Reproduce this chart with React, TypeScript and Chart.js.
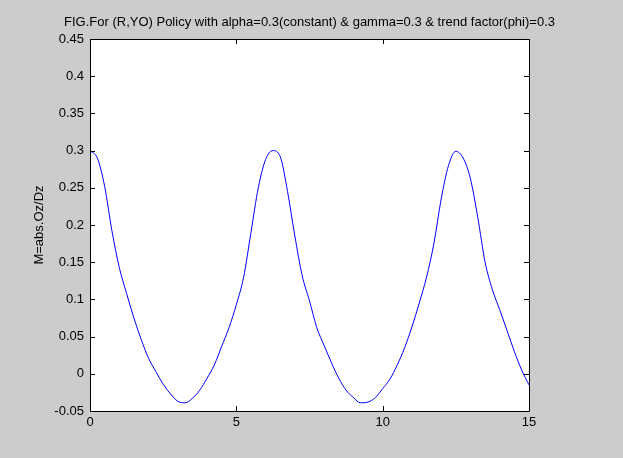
import React, { useEffect, useRef } from "react";
import { Chart, registerables } from "chart.js";

Chart.register(...registerables);

const titleText = "FIG.For (R,YO) Policy with alpha=0.3(constant) & gamma=0.3 & trend factor(phi)=0.3";
const yLabelText = "M=abs.Oz/Dz";

const xValues = [
  0, 0.25, 0.5, 0.75, 1, 1.25, 1.5, 1.75, 2, 2.25, 2.5, 2.75, 3, 3.25, 3.5, 3.75,
  4, 4.25, 4.5, 4.75, 5, 5.25, 5.5, 5.75, 6, 6.25, 6.5, 6.75, 7, 7.25, 7.5, 7.75,
  8, 8.25, 8.5, 8.75, 9, 9.25, 9.5, 9.75, 10, 10.25, 10.5, 10.75, 11, 11.25, 11.5,
  11.75, 12, 12.25, 12.5, 12.75, 13, 13.25, 13.5, 13.75, 14, 14.25, 14.5, 14.75, 15,
];
const mValues = [
  0.3, 0.29, 0.252, 0.192, 0.143, 0.108, 0.075, 0.046, 0.021, 0.003, -0.014, -0.027,
  -0.037, -0.039, -0.033, -0.022, -0.006, 0.012, 0.037, 0.062, 0.093, 0.13, 0.19, 0.25,
  0.288, 0.3, 0.292, 0.245, 0.185, 0.132, 0.098, 0.062, 0.038, 0.015, -0.006, -0.022,
  -0.032, -0.039, -0.038, -0.032, -0.02, -0.007, 0.012, 0.035, 0.063, 0.095, 0.13,
  0.175, 0.235, 0.28, 0.299, 0.29, 0.262, 0.21, 0.15, 0.113, 0.086, 0.058, 0.03, 0.005,
  -0.015,
];
const xTicks = [0, 5, 10, 15];
const yTicks = [-0.05, 0, 0.05, 0.1, 0.15, 0.2, 0.25, 0.3, 0.35, 0.4, 0.45];

const FONT = "'Liberation Sans', Arial, sans-serif";

const matlabPlugin = {
  id: "matlabFrame",
  beforeDraw(chart: any) {
    const { ctx, chartArea: a, width, height } = chart;
    ctx.save();
    ctx.fillStyle = "#cccccc";
    ctx.fillRect(0, 0, width, height);
    ctx.fillStyle = "#ffffff";
    ctx.fillRect(a.left, a.top, a.right - a.left, a.bottom - a.top);
    ctx.restore();
  },
  afterDraw(chart: any) {
    const { ctx, chartArea: a, scales } = chart;
    const xs = scales.x;
    const ys = scales.y;
    ctx.save();
    ctx.strokeStyle = "#000000";
    ctx.lineWidth = 1;
    ctx.beginPath();
    ctx.rect(Math.round(a.left) + 0.5, Math.round(a.top) + 0.5, Math.round(a.right - a.left), Math.round(a.bottom - a.top));
    ctx.stroke();
    const tl = 5;
    ctx.beginPath();
    for (const v of xTicks) {
      const px = Math.round(xs.getPixelForValue(v)) + 0.5;
      ctx.moveTo(px, a.bottom);
      ctx.lineTo(px, a.bottom - tl);
      ctx.moveTo(px, a.top);
      ctx.lineTo(px, a.top + tl);
    }
    for (const v of yTicks) {
      const py = Math.round(ys.getPixelForValue(v)) + 0.5;
      ctx.moveTo(a.left, py);
      ctx.lineTo(a.left + tl, py);
      ctx.moveTo(a.right, py);
      ctx.lineTo(a.right - tl, py);
    }
    ctx.stroke();
    ctx.fillStyle = "#000000";
    ctx.font = "13px " + FONT;
    ctx.textAlign = "center";
    ctx.textBaseline = "middle";
    ctx.fillText(titleText, (a.left + a.right) / 2, 22);
    ctx.translate(39, (a.top + a.bottom) / 2);
    ctx.rotate(-Math.PI / 2);
    ctx.fillText(yLabelText, 0, 0);
    ctx.restore();
  },
};

export default function App() {
  const ref = useRef<HTMLCanvasElement | null>(null);
  useEffect(() => {
    if (!ref.current) return;
    const points = xValues.map((x, i) => ({ x, y: mValues[i] }));
    const chart = new Chart(ref.current, {
      type: "line",
      data: {
        datasets: [
          {
            data: points,
            borderColor: "#0000ff",
            borderWidth: 1,
            pointRadius: 0,
            cubicInterpolationMode: "monotone",
            fill: false,
          },
        ],
      },
      options: {
        responsive: false,
        animation: false,
        events: [],
        layout: { padding: { left: 0, right: 94, top: 39, bottom: 0 } },
        plugins: { legend: { display: false }, tooltip: { enabled: false }, title: { display: false } },
        scales: {
          x: {
            type: "linear",
            min: 0,
            max: 15,
            afterFit: (s: any) => { s.height = 47; },
            afterBuildTicks: (s: any) => { s.ticks = xTicks.map((v) => ({ value: v })); },
            grid: { display: false, drawTicks: false },
            border: { display: false },
            ticks: { color: "#000", font: { family: FONT, size: 13 }, padding: 4, maxRotation: 0 },
          },
          y: {
            type: "linear",
            min: -0.05,
            max: 0.45,
            afterFit: (s: any) => { s.width = 90; },
            afterBuildTicks: (s: any) => { s.ticks = yTicks.map((v) => ({ value: v })); },
            grid: { display: false, drawTicks: false },
            border: { display: false },
            ticks: {
              color: "#000",
              font: { family: FONT, size: 13 },
              padding: 6,
              callback: (v: any) => String(Number(Number(v).toFixed(2))),
            },
          },
        },
      },
      plugins: [matlabPlugin],
    });
    return () => chart.destroy();
  }, []);
  return (
    <div style={{ position: "fixed", left: 0, top: 0, width: 623, height: 458, background: "#cccccc" }}>
      <canvas ref={ref} width={623} height={458} style={{ display: "block" }} />
    </div>
  );
}
